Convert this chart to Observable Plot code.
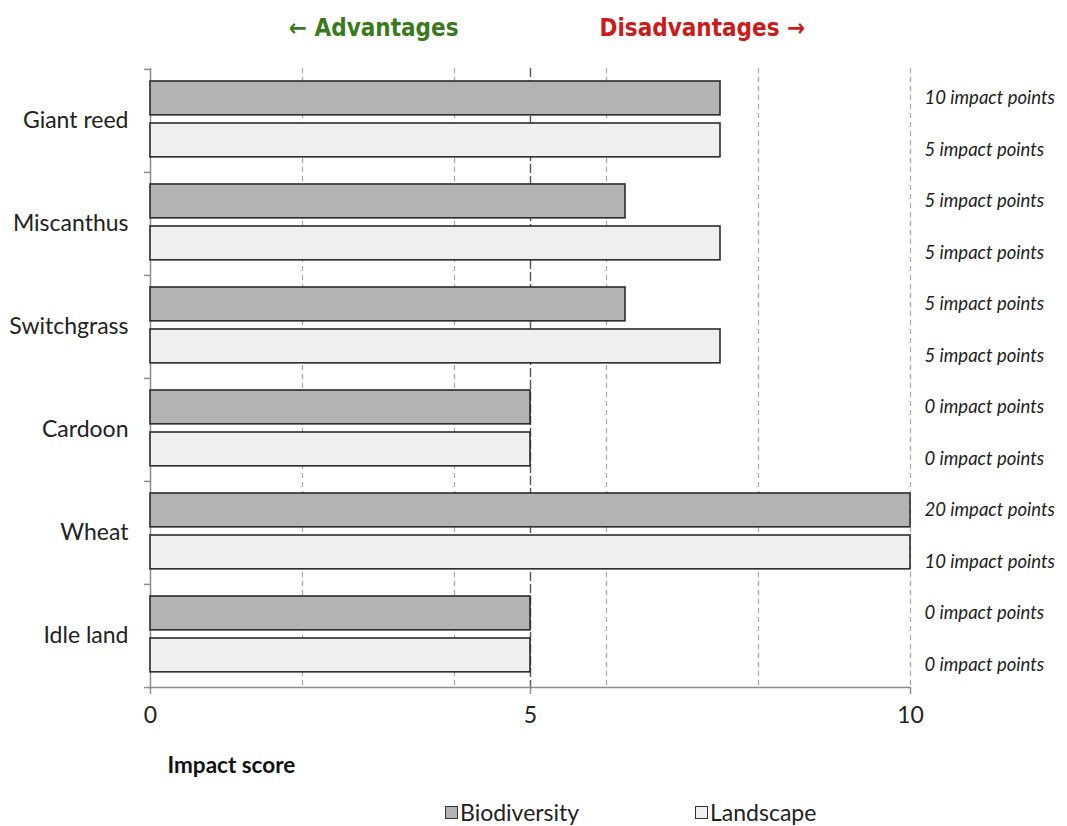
<!DOCTYPE html>
<html>
<head>
<meta charset="utf-8">
<script src="https://cdn.jsdelivr.net/npm/d3@7"></script>
<script src="https://cdn.jsdelivr.net/npm/@observablehq/plot@0.6"></script>
<style>
  html, body { margin: 0; padding: 0; background: #fff; overflow: hidden; }
  #wrap { position: relative; width: 1067px; height: 826px; font-family: Lato, "Open Sans", sans-serif; }
  #legend { position: absolute; top: 799px; left: 0; width: 1067px; height: 27px; font-size: 23px; color: #222; }
  .item { position: absolute; top: 0; display: flex; align-items: center; line-height: 26px; }
  .sw { width: 13px; height: 13px; border: 1.5px solid #333; margin-right: 2px; box-sizing: border-box; }
</style>
</head>
<body>
<div id="wrap"></div>
<script>
// ---- data ----
const categories = ["Giant reed", "Miscanthus", "Switchgrass", "Cardoon", "Wheat", "Idle land"];
const series = ["Biodiversity", "Landscape"];
const biodiversity = [7.5, 6.25, 6.25, 5, 10, 5];
const landscape = [7.5, 7.5, 7.5, 5, 10, 5];
const biodiversityPoints = ["10 impact points", "5 impact points", "5 impact points", "0 impact points", "20 impact points", "0 impact points"];
const landscapePoints = ["5 impact points", "5 impact points", "5 impact points", "0 impact points", "10 impact points", "0 impact points"];
const xTicks = [0, 5, 10];
const gridValues = [2, 4, 6, 8, 10];
const neutral = 5;
const xDomain = [0, 10];
const colors = {Biodiversity: "#b3b3b3", Landscape: "#efefef"};

const rows = [];
categories.forEach((c, i) => {
  rows.push({category: c, series: "Biodiversity", value: biodiversity[i], label: biodiversityPoints[i]});
  rows.push({category: c, series: "Landscape", value: landscape[i], label: landscapePoints[i]});
});
const bio = rows.filter(d => d.series === "Biodiversity");
const land = rows.filter(d => d.series === "Landscape");

const width = 1067, height = 798;
const marginTop = 68, marginBottom = 111, marginLeft = 150, marginRight = 157;
const bw = (height - marginTop - marginBottom) / categories.length;

const chart = Plot.plot({
  width, height, marginTop, marginBottom, marginLeft, marginRight,
  style: {fontFamily: "Lato, 'Open Sans', sans-serif", background: "#fff", overflow: "visible"},
  x: {domain: xDomain},
  y: {domain: categories, padding: 0},
  marks: [
    // dashed light gridlines
    Plot.ruleX(gridValues, {stroke: "#a6a6a6", strokeDasharray: "5,4", strokeWidth: 1.2}),
    // neutral line
    Plot.ruleX([neutral], {stroke: "#555", strokeDasharray: "9,3", strokeWidth: 1.4}),
    // y axis line
    Plot.ruleX([0], {stroke: "#8c8c8c", strokeWidth: 1.5}),
    // x axis line
    Plot.ruleY([categories[categories.length - 1]], {y: d => d, dy: bw / 2, x1: xDomain[0], x2: xDomain[1], stroke: "#8c8c8c", strokeWidth: 1.5}),
    // category boundary ticks
    Plot.ruleY(categories, {y: d => d, dy: -bw / 2, x1: 0, x2: 0, insetLeft: -6, stroke: "#8c8c8c", strokeWidth: 1.5}),
    Plot.ruleY([categories[categories.length - 1]], {y: d => d, dy: bw / 2, x1: 0, x2: 0, insetLeft: -6, stroke: "#8c8c8c", strokeWidth: 1.5}),
    // bars
    Plot.barX(bio, {x: "value", y: "category", fill: colors.Biodiversity, stroke: "#2b2b2b", strokeWidth: 1.6, insetTop: 12, insetBottom: bw - 46}),
    Plot.barX(land, {x: "value", y: "category", fill: colors.Landscape, stroke: "#2b2b2b", strokeWidth: 1.6, insetTop: 54, insetBottom: bw - 88}),
    // axes
    Plot.axisX({ticks: xTicks, tickSize: 7, tickPadding: 12, fontSize: 23, label: null, stroke: "#8c8c8c", strokeWidth: 1.5, color: "#222", tickFormat: d => String(d)}),
    Plot.axisY({tickSize: 0, tickPadding: 22, fontSize: 23, label: null, color: "#222"}),
    // right annotations
    Plot.text(bio, {y: "category", text: "label", frameAnchor: "right", dx: 14, dy: -23, textAnchor: "start", fontStyle: "italic", fontSize: 18.5, fill: "#1e1e1e"}),
    Plot.text(land, {y: "category", text: "label", frameAnchor: "right", dx: 14, dy: 29, textAnchor: "start", fontStyle: "italic", fontSize: 18.5, fill: "#1e1e1e"}),
    // headers
    Plot.text([neutral], {x: d => d, frameAnchor: "top", dy: -50, dx: -72, textAnchor: "end", text: () => "\u2190 Advantages", fill: "#3b7a1c", fontWeight: "bold", fontSize: 24, fontFamily: "'Liberation Sans Narrow', 'DejaVu Sans Condensed', Lato, sans-serif"}),
    Plot.text([neutral], {x: d => d, frameAnchor: "top", dy: -50, dx: 69, textAnchor: "start", text: () => "Disadvantages \u2192", fill: "#cc1b1b", fontWeight: "bold", fontSize: 24, fontFamily: "'Liberation Sans Narrow', 'DejaVu Sans Condensed', Lato, sans-serif"}),
    // axis title
    Plot.text(["Impact score"], {frameAnchor: "bottom-left", dx: 17, dy: 85, textAnchor: "start", text: d => d, fontWeight: "bold", fontSize: 22.5, fill: "#111"})
  ]
});

const wrap = document.getElementById("wrap");
wrap.appendChild(chart);

const legend = document.createElement("div");
legend.id = "legend";
const legendLeft = {Biodiversity: 445, Landscape: 695};
series.forEach(s => {
  const item = document.createElement("div");
  item.className = "item";
  item.style.left = legendLeft[s] + "px";
  const sw = document.createElement("span");
  sw.className = "sw";
  sw.style.background = colors[s];
  const t = document.createElement("span");
  t.textContent = s;
  item.appendChild(sw);
  item.appendChild(t);
  legend.appendChild(item);
});
wrap.appendChild(legend);
</script>
</body>
</html>
